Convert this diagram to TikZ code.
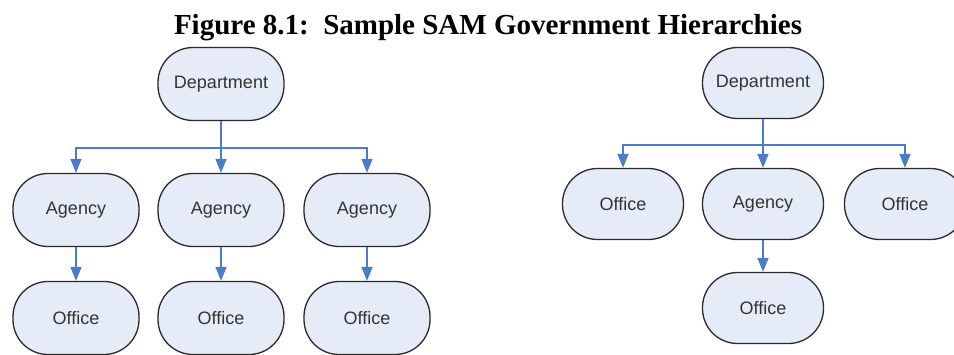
\documentclass[tikz,border=0pt]{standalone}
\usepackage{fontspec}
\setmainfont{Liberation Serif}
\newfontfamily\arialfont{Liberation Sans}
\usetikzlibrary{arrows.meta}
\definecolor{boxfill}{HTML}{E6ECF7}
\definecolor{boxline}{HTML}{2A2A2A}
\definecolor{arrowblue}{HTML}{4A7CC8}
\definecolor{boxtext}{HTML}{333333}
\tikzset{
  orgbox/.style={draw=boxline, line width=1.3pt, fill=boxfill, rectangle,
    rounded corners=35pt, minimum width=126pt, minimum height=73pt,
    inner sep=0pt, font=\arialfont\fontsize{18}{18}\selectfont, text=boxtext},
  orgboxs/.style={orgbox, minimum width=121pt, minimum height=71pt},
  link/.style={draw=arrowblue, line width=1.6pt,
    -{Triangle[width=11pt,length=14pt]}},
}
\begin{document}
\begin{tikzpicture}[x=1pt,y=-1pt]
\useasboundingbox (0,0) rectangle (954,354);
\begin{scope}
\clip (0,0) rectangle (954,354);
\node[font=\bfseries\fontsize{29}{29}\selectfont, anchor=base] (title) at (488,34) {Figure 8.1:\ \ Sample SAM Government Hierarchies};

% left hierarchy
\node[orgbox] (d1) at (221,84) {Department};
\node[orgbox] (a1) at (76,210) {Agency};
\node[orgbox] (a2) at (221,210) {Agency};
\node[orgbox] (a3) at (367,210) {Agency};
\node[orgbox] (o1) at (76,318) {Office};
\node[orgbox] (o2) at (221,318) {Office};
\node[orgbox] (o3) at (367,318) {Office};
\coordinate (j1) at (221,148);
\draw[link] (d1.south) -- (j1) -| (a1.north);
\draw[link] (d1.south) -- (a2.north);
\draw[link] (j1) -| (a3.north);
\draw[link] (a1.south) -- (o1.north);
\draw[link] (a2.south) -- (o2.north);
\draw[link] (a3.south) -- (o3.north);

% right hierarchy
\node[orgboxs] (d2) at (763,83) {Department};
\node[orgboxs] (r1) at (623,204) {Office};
\node[orgboxs] (r2) at (763,204) {Agency};
\node[orgboxs] (r3) at (905,204) {Office};
\node[orgboxs] (r4) at (763,308) {Office};
\coordinate (j2) at (763,145);
\draw[link] (d2.south) -- (j2) -| (r1.north);
\draw[link] (d2.south) -- (r2.north);
\draw[link] (j2) -| (r3.north);
\draw[link] (r2.south) -- (r4.north);
\end{scope}
\end{tikzpicture}
\end{document}
